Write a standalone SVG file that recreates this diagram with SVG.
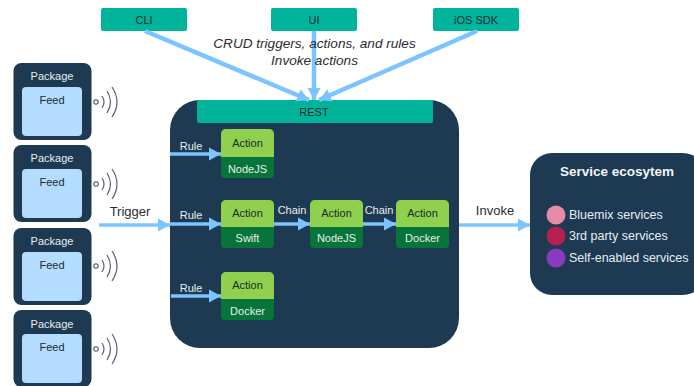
<svg xmlns="http://www.w3.org/2000/svg" width="694" height="386" viewBox="0 0 694 386">
<style>
text{font-family:"Liberation Sans",Arial,sans-serif;font-size:11px;text-anchor:middle}
.dark{fill:#1d3a52}
.teal{fill:#00b39b}
.feed{fill:#b3dcff}
.lime{fill:#8fd14f}
.green{fill:#07753a}
.w{fill:#e8edf0}
.k{fill:#1c2b2b}
.lbl{fill:#2c2c30;font-size:13px}
.conn{stroke:#7cc4ff;fill:none;stroke-width:3.5;marker-end:url(#a)}
.top{stroke-width:4.500}
.wave{stroke:#5d5b7c;fill:none;stroke-width:1.2}
.it{font-style:italic;font-size:13.600px;fill:#2c2c30}
.svc{text-anchor:start;font-size:12.500px;fill:#e8edf2}
</style>
<defs>
<marker id="a" markerUnits="userSpaceOnUse" markerWidth="13" markerHeight="14" refX="12" refY="7" orient="auto"><path d="M0 0.500L12 7L0 13.500Z" fill="#7cc4ff"/></marker>
<g id="wv"><circle cx="0" cy="0" r="2.2" fill="none" stroke="#5d5b7c" stroke-width="1.2"/><path class="wave" d="M6-6Q10 0 6 6M11-11Q18 0 11 11M16-15Q26 0 16 15"/></g>
</defs>

<g id="pkg1"><rect class="dark" x="13.500" y="63" width="78" height="77" rx="8"/><rect class="feed" x="22" y="87" width="60" height="49" rx="4"/><text class="w" x="52" y="80">Package</text><text class="k" x="52" y="104">Feed</text><use href="#wv" x="96" y="102"/></g>
<g id="pkg2"><rect class="dark" x="13.500" y="145" width="78" height="77" rx="8"/><rect class="feed" x="22" y="169" width="60" height="49" rx="4"/><text class="w" x="52" y="162">Package</text><text class="k" x="52" y="186">Feed</text><use href="#wv" x="96" y="184"/></g>
<g id="pkg3"><rect class="dark" x="13.500" y="228" width="78" height="77" rx="8"/><rect class="feed" x="22" y="252" width="60" height="49" rx="4"/><text class="w" x="52" y="245">Package</text><text class="k" x="52" y="269">Feed</text><use href="#wv" x="96" y="266"/></g>
<g id="pkg4"><rect class="dark" x="13.500" y="310" width="78" height="77" rx="8"/><rect class="feed" x="22" y="334" width="60" height="49" rx="4"/><text class="w" x="52" y="328">Package</text><text class="k" x="52" y="351">Feed</text><use href="#wv" x="96" y="349"/></g>

<g id="cli"><rect class="teal" x="101" y="8" width="86" height="23" rx="2"/><text class="k" x="144" y="24">CLI</text></g>
<g id="ui"><rect class="teal" x="271" y="8" width="86" height="23" rx="2"/><text class="k" x="314" y="24">UI</text></g>
<g id="ios"><rect class="teal" x="433" y="8" width="86" height="23" rx="2"/><text class="k" x="476" y="24">iOS SDK</text></g>

<g id="main"><rect class="dark" x="170" y="100" width="289" height="248" rx="30"/></g>
<g id="rest"><rect class="teal" x="197" y="100" width="236" height="23" rx="2"/><text class="k" x="314" y="116">REST</text></g>

<g id="a1"><rect class="green" x="221" y="129" width="53" height="49" rx="4"/><path class="lime" d="M221 157V134a5 5 0 0 1 5-5h43a5 5 0 0 1 5 5v23Z"/><text class="k" x="247.500" y="147">Action</text><text class="w" x="247.500" y="173">NodeJS</text></g>
<g id="a2"><rect class="green" x="221" y="200" width="53" height="48" rx="4"/><path class="lime" d="M221 227V205a5 5 0 0 1 5-5h43a5 5 0 0 1 5 5v22Z"/><text class="k" x="247.500" y="217">Action</text><text class="w" x="247.500" y="242">Swift</text></g>
<g id="a3"><rect class="green" x="310" y="200" width="53" height="48" rx="4"/><path class="lime" d="M310 227V205a5 5 0 0 1 5-5h43a5 5 0 0 1 5 5v22Z"/><text class="k" x="336.500" y="217">Action</text><text class="w" x="336.500" y="242">NodeJS</text></g>
<g id="a4"><rect class="green" x="396" y="200" width="53" height="48" rx="4"/><path class="lime" d="M396 227V205a5 5 0 0 1 5-5h43a5 5 0 0 1 5 5v22Z"/><text class="k" x="422.500" y="217">Action</text><text class="w" x="422.500" y="242">Docker</text></g>
<g id="a5"><rect class="green" x="221" y="272" width="53" height="48" rx="4"/><path class="lime" d="M221 299V277a5 5 0 0 1 5-5h43a5 5 0 0 1 5 5v22Z"/><text class="k" x="247.500" y="289">Action</text><text class="w" x="247.500" y="315">Docker</text></g>

<g id="service"><rect class="dark" x="530" y="153" width="175" height="142" rx="22"/><text x="617" y="176" style="font-weight:bold;font-size:13.500px;fill:#f2f5f7">Service ecosytem</text><circle cx="556" cy="215" r="9.500" fill="#e88bab"/><circle cx="556" cy="236" r="9.500" fill="#b5204f"/><circle cx="556" cy="258" r="9.500" fill="#8a3ac0"/><text class="svc" x="569" y="219">Bluemix services</text><text class="svc" x="569" y="240">3rd party services</text><text class="svc" x="569" y="262">Self-enabled services</text></g>

<g id="connectors">
<path class="conn top" d="M145 31L309 100"/>
<path class="conn top" d="M314 31V100"/>
<path class="conn top" d="M477 31L319 100"/>
<path class="conn" d="M99 225H170"/>
<path class="conn" d="M170 154H221"/>
<path class="conn" d="M170 224H221"/>
<path class="conn" d="M171 296H221"/>
<path class="conn" d="M274 224H310"/>
<path class="conn" d="M363 224H396"/>
<path class="conn" d="M459 225H530"/>
</g>

<g id="labels">
<text class="it" x="314.500" y="48">CRUD triggers, actions, and rules</text>
<text class="it" x="314.500" y="65">Invoke actions</text>
<text class="lbl" x="130" y="216">Trigger</text>
<text class="lbl" x="495" y="215">Invoke</text>
<text class="w" x="191" y="150">Rule</text>
<text class="w" x="191" y="219">Rule</text>
<text class="w" x="191" y="292">Rule</text>
<text class="w" x="292" y="214">Chain</text>
<text class="w" x="379" y="214">Chain</text>
</g>
</svg>
